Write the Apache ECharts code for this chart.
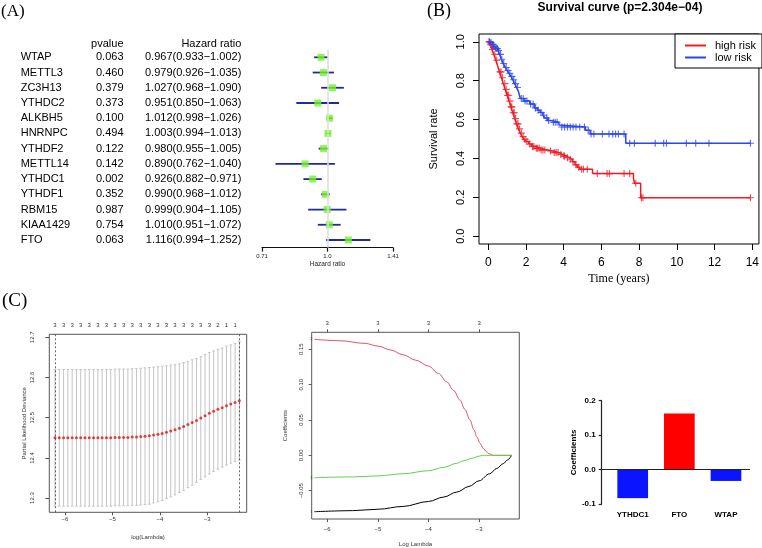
<!DOCTYPE html>
<html><head><meta charset="utf-8">
<script src="https://cdn.jsdelivr.net/npm/echarts@6/dist/echarts.min.js"></script>
<style>html,body{margin:0;padding:0;background:#fff}#c{width:762px;height:548px}</style>
</head><body><div id="c"></div>
<script>
// ---------- Panel A: univariate Cox forest plot ----------
const genes = ['WTAP','METTL3','ZC3H13','YTHDC2','ALKBH5','HNRNPC','YTHDF2','METTL14','YTHDC1','YTHDF1','RBM15','KIAA1429','FTO'];
const pvalues = ['0.063','0.460','0.379','0.373','0.100','0.494','0.122','0.142','0.002','0.352','0.987','0.754','0.063'];
const hr = [0.967,0.979,1.027,0.951,1.012,1.003,0.980,0.890,0.926,0.990,0.999,1.010,1.116];
const hrLow = [0.933,0.926,0.968,0.850,0.998,0.994,0.955,0.762,0.882,0.968,0.904,0.951,0.994];
const hrHigh = [1.002,1.035,1.090,1.063,1.026,1.013,1.005,1.040,0.971,1.012,1.105,1.072,1.252];
const hrTicks = [0.71, 1.0, 1.41];
const hrTickLabels = ['0.71','1.0','1.41'];
const hrRef = 1.0;

// ---------- Panel B: Kaplan-Meier ----------
const highT = [0,0.10,0.20,0.30,0.40,0.50,0.60,0.70,0.80,0.90,1.00,1.10,1.20,1.30,1.40,1.50,1.60,1.70,1.80,1.90,2.00,2.15,2.30,2.50,2.75,3.10,3.45,3.75,3.95,4.15,4.30,4.45,4.60,4.72,4.85,5.53,7.70,7.76,8.08];
const highS = [1,0.985,0.960,0.935,0.905,0.875,0.845,0.815,0.785,0.755,0.725,0.695,0.665,0.635,0.605,0.578,0.552,0.530,0.512,0.498,0.487,0.474,0.462,0.452,0.444,0.438,0.430,0.420,0.412,0.404,0.396,0.383,0.367,0.355,0.344,0.322,0.297,0.272,0.198];
const highCensor = [0.05,0.12,0.22,0.35,0.45,0.62,0.68,0.75,0.88,0.95,1.02,1.08,1.15,1.22,1.25,1.33,1.38,1.45,1.52,1.58,1.66,1.75,1.85,1.95,2.05,2.2,2.35,2.42,2.55,2.62,2.7,2.8,2.9,3.0,3.3,3.5,3.6,3.7,3.85,4.0,4.05,4.2,4.35,4.5,4.65,4.8,4.95,5.05,5.25,5.78,6.3,6.42,7.2,7.5,7.82,8.12,8.2,13.9];
const lowT = [0,0.1,0.2,0.3,0.4,0.5,0.6,0.7,0.8,0.9,1.0,1.1,1.2,1.3,1.4,1.5,1.6,1.7,1.9,2.2,2.45,2.6,2.75,2.9,3.0,3.15,3.3,3.75,3.85,5.15,5.4,7.29];
const lowS = [1,0.995,0.985,0.975,0.965,0.955,0.935,0.910,0.888,0.868,0.852,0.838,0.822,0.805,0.785,0.765,0.745,0.708,0.695,0.680,0.660,0.648,0.636,0.622,0.608,0.595,0.586,0.572,0.562,0.545,0.526,0.478];
const lowCensor = [0.05,0.1,0.15,0.22,0.28,0.35,0.42,0.48,0.55,0.65,0.72,0.82,0.95,1.05,1.15,1.25,1.35,1.45,1.55,1.75,1.85,1.95,2.05,2.25,2.38,2.5,2.65,2.8,2.95,3.1,3.2,3.45,3.55,3.65,3.9,4.05,4.2,4.35,4.5,4.65,4.85,5.1,5.3,5.45,5.6,6.05,6.4,6.6,6.75,6.9,7.2,7.5,7.75,8.85,9.3,9.45,10.5,11.0,11.7,13.9];
const survTicksX = [0,2,4,6,8,10,12,14];
const survTicksY = [0,0.2,0.4,0.6,0.8,1.0];

// ---------- Panel C left: cross-validation ----------
const cvLogLambda = [-6.211,-6.121,-6.030,-5.940,-5.849,-5.759,-5.669,-5.578,-5.488,-5.397,-5.307,-5.217,-5.126,-5.036,-4.945,-4.855,-4.765,-4.674,-4.584,-4.493,-4.403,-4.313,-4.222,-4.132,-4.041,-3.951,-3.861,-3.770,-3.680,-3.589,-3.499,-3.409,-3.318,-3.228,-3.137,-3.047,-2.957,-2.866,-2.776,-2.685,-2.595,-2.505,-2.414,-2.324];
const cvMean = [12.450,12.450,12.450,12.450,12.450,12.450,12.450,12.450,12.450,12.450,12.450,12.450,12.450,12.450,12.451,12.451,12.451,12.451,12.452,12.452,12.453,12.454,12.455,12.457,12.459,12.461,12.464,12.467,12.470,12.474,12.478,12.483,12.488,12.493,12.499,12.505,12.511,12.516,12.521,12.525,12.530,12.534,12.538,12.542];
const cvSd = [0.170,0.170,0.170,0.170,0.170,0.170,0.170,0.170,0.170,0.170,0.170,0.170,0.170,0.170,0.170,0.170,0.170,0.170,0.170,0.170,0.170,0.170,0.170,0.169,0.168,0.167,0.165,0.164,0.162,0.160,0.159,0.157,0.156,0.154,0.153,0.152,0.151,0.150,0.149,0.148,0.148,0.147,0.147,0.147];
const cvNzero = [3,3,3,3,3,3,3,3,3,3,3,3,3,3,3,3,3,3,3,3,3,3,3,3,3,3,3,3,3,3,3,3,3,3,3,3,3,2,2,2,1,1,1,1];
const cvMarks = [-6.211,-2.324];
const cvTicksX = [-6,-5,-4,-3];
const cvTicksY = [12.3,12.4,12.5,12.6,12.7];

// ---------- Panel C middle: coefficient paths ----------
const pathVar1 = [[-6.257,-0.0797],[-5.5,-0.0782],[-5.0,-0.0762],[-4.5,-0.0722],[-4.0,-0.0652],[-3.7,-0.0590],[-3.443,-0.0520],[-3.2,-0.0440],[-3.0,-0.0360],[-2.79,-0.0260],[-2.652,-0.0186],[-2.52,-0.0116],[-2.44,-0.0066],[-2.356,0]];
const pathVar2 = [[-6.257,0.1641],[-5.75,0.1621],[-5.25,0.1583],[-5.0,0.1545],[-4.75,0.1490],[-4.5,0.1422],[-4.25,0.1345],[-4.0,0.1262],[-3.8,0.1158],[-3.64,0.1040],[-3.5,0.0915],[-3.377,0.0782],[-3.28,0.0650],[-3.18,0.0499],[-3.1,0.0360],[-3.047,0.0263],[-2.98,0.0170],[-2.917,0.0099],[-2.86,0.0055],[-2.818,0.0028],[-2.72,0],[-2.356,0]];
const pathVar3 = [[-6.257,-0.0316],[-5.5,-0.0305],[-5.0,-0.0290],[-4.5,-0.0260],[-4.0,-0.0217],[-3.7,-0.0170],[-3.443,-0.0113],[-3.3,-0.0075],[-3.146,-0.0042],[-3.0,-0.0012],[-2.929,0],[-2.356,0]];
const pathVarLabels = ['1','2','3'];
const pathTicksX = [-6,-5,-4,-3];
const pathTopDf = ['3','3','3','3'];
const pathTicksY = [-0.05,0,0.05,0.10,0.15];
const pathTickLabelsY = ['\u22120.05','0.00','0.05','0.10','0.15'];

// ---------- Panel C right: coefficients ----------
const barGenes = ['YTHDC1','FTO','WTAP'];
const barCoef = [-0.083, 0.163, -0.033];
const barTicks = [-0.1,0,0.1,0.2];
const barTickLabels = ['-0.1','0.0','0.1','0.2'];

// ---------- helpers ----------
function survAt(T, S, t){ let v = 1; for (let i=0;i<T.length;i++){ if (T[i] <= t) v = S[i]; } return v; }
function stepData(T, S, C){ const d = T.map((t,i)=>[t,S[i]]); const tEnd = Math.max(...C); d.push([tEnd, S[S.length-1]]); return d; }
const SANS = 'Liberation Sans, Arial, sans-serif';
const SERIF = 'Liberation Serif, Times New Roman, serif';
const plusPath = 'path://M4.2,0h1.6v4.2h4.2v1.6h-4.2v4.2h-1.6v-4.2h-4.2v-1.6h4.2z';
const RED = '#ee1c24', BLUE = '#2c46e8';
const lnTicks = hrTicks.map(Math.log);
const pathColors = ['#000000','#df536b','#61d04f'];

function pathSeries(data, k){
  return {type:'line', xAxisIndex:4, yAxisIndex:3, symbol:'none', silent:true, smooth:0.35, smoothMonotone:'x',
    data: data.slice().reverse(), lineStyle:{color:pathColors[k], width:1},
    endLabel:{show:true, formatter:pathVarLabels[k], fontSize:4, color:'#444', distance:-4}};
}

const chart = echarts.init(document.getElementById('c'), null, {renderer:'canvas'});
const option = {
  animation: false,
  backgroundColor: '#fff',
  graphic: [
    {type:'text', x:1, y:12, style:{text:'(A)', font:'17px '+SERIF, fill:'#000', verticalAlign:'middle'}},
    {type:'text', x:427, y:11, style:{text:'(B)', font:'18px '+SERIF, fill:'#000', verticalAlign:'middle'}},
    {type:'text', x:2, y:301, style:{text:'(C)', font:'19px '+SERIF, fill:'#000', verticalAlign:'middle'}},
    {type:'text', x:620, y:8, style:{text:'Survival curve (p=2.304e\u221204)', font:'bold 12px '+SANS, fill:'#000', align:'center', verticalAlign:'middle'}},
    {type:'text', x:123.5, y:43.5, style:{text:'pvalue', font:'11px '+SANS, fill:'#000', align:'right', verticalAlign:'middle'}},
    {type:'text', x:241.3, y:43.5, style:{text:'Hazard ratio', font:'11px '+SANS, fill:'#000', align:'right', verticalAlign:'middle'}}
  ],
  legend: {
    data: ['high risk','low risk'], left: 675, top: 34, orient: 'vertical',
    icon: 'rect', itemWidth: 21, itemHeight: 2, itemGap: 1,
    padding: [6,6,5,10], borderColor:'#000', borderWidth:1, backgroundColor:'#fff',
    selectedMode: false,
    textStyle: {fontFamily: SANS, fontSize: 11, color:'#000', padding:[0,0,0,4]}
  },
  grid: [
    {left:262, top:49.7, width:131, height:197.9},
    {left:479, top:34, width:282, height:210, show:true, borderColor:'#000', borderWidth:1},
    {left:49.3, top:334.3, width:197.4, height:178, show:true, borderColor:'#555', borderWidth:1},
    {left:311.7, top:332.3, width:207.6, height:186.7, show:true, borderColor:'#555', borderWidth:1},
    {left:601.7, top:400.7, width:148.3, height:103.3}
  ],
  xAxis: [
    {gridIndex:0, type:'value', min:Math.log(0.71), max:Math.log(1.41), splitLine:{show:false},
     axisLine:{show:true, onZero:false, lineStyle:{color:'#111', width:1.2}},
     axisTick:{show:true, customValues: lnTicks, length:4, lineStyle:{color:'#111', width:1.2}},
     axisLabel:{customValues: lnTicks, fontSize:6, fontFamily:SANS, color:'#222', margin:6,
       formatter:(v)=>hrTickLabels[lnTicks.findIndex(t=>Math.abs(t-v)<1e-6)]},
     name:'Hazard ratio', nameLocation:'middle', nameGap:13, nameTextStyle:{fontSize:6.5, fontFamily:SANS, color:'#222'}},
    {gridIndex:1, type:'value', min:-0.49, max:14.35, splitLine:{show:false},
     axisLine:{show:false, onZero:false},
     axisTick:{show:true, customValues: survTicksX, length:6, lineStyle:{color:'#000'}},
     axisLabel:{customValues: survTicksX, fontSize:12, fontFamily:SANS, color:'#000', margin:13},
     name:'Time (years)', nameLocation:'middle', nameGap:29, nameTextStyle:{fontSize:12, fontFamily:SERIF, color:'#000'}},
    {gridIndex:2, type:'value', min:-6.331, max:-2.169, splitLine:{show:false},
     axisLine:{show:false, onZero:false},
     axisTick:{show:true, customValues: cvTicksX, length:3, lineStyle:{color:'#555'}},
     axisLabel:{customValues: cvTicksX, fontSize:6, fontFamily:SANS, color:'#333', margin:4, formatter:v=>String(v).replace('-','\u2212')},
     name:'log(Lambda)', nameLocation:'middle', nameGap:22, nameTextStyle:{fontSize:6, fontFamily:SANS, color:'#333'}},
    {gridIndex:2, type:'value', position:'top', min:-6.331, max:-2.169, splitLine:{show:false},
     axisLine:{show:false, onZero:false}, axisTick:{show:false},
     axisLabel:{customValues: cvLogLambda.filter((v,i)=>i%2===0), fontSize:6, fontFamily:SANS, color:'#333', margin:6,
       formatter:(v)=>String(cvNzero[cvLogLambda.findIndex(t=>Math.abs(t-v)<1e-6)])}},
    {gridIndex:3, type:'value', min:-6.308, max:-2.205, splitLine:{show:false},
     axisLine:{show:false, onZero:false},
     axisTick:{show:true, customValues: pathTicksX, length:3, lineStyle:{color:'#555'}},
     axisLabel:{customValues: pathTicksX, fontSize:6, fontFamily:SANS, color:'#333', margin:7, formatter:v=>String(v).replace('-','\u2212')},
     name:'Log Lambda', nameLocation:'middle', nameGap:22, nameTextStyle:{fontSize:6, fontFamily:SANS, color:'#333'}},
    {gridIndex:3, type:'value', position:'top', min:-6.308, max:-2.205, splitLine:{show:false},
     axisLine:{show:false, onZero:false},
     axisTick:{show:true, customValues: pathTicksX, length:3, lineStyle:{color:'#555'}},
     axisLabel:{customValues: pathTicksX, fontSize:6, fontFamily:SANS, color:'#333', margin:6,
       formatter:(v)=>pathTopDf[pathTicksX.indexOf(v)]}},
    {gridIndex:4, type:'value', min:-0.665, max:2.515, splitLine:{show:false},
     axisLine:{show:false, onZero:false}, axisTick:{show:false},
     axisLabel:{customValues:[0,1,2], fontSize:8, fontWeight:'bold', fontFamily:SANS, color:'#000', margin:7,
       formatter:(v)=>barGenes[v]}}
  ],
  yAxis: [
    {gridIndex:0, type:'category', data:genes, inverse:true,
     axisLine:{show:false}, axisTick:{show:false}, splitLine:{show:false},
     axisLabel:{interval:0, margin:20.7, fontFamily:SANS, fontSize:11, color:'#000',
       formatter:(v,i)=>'{g|'+genes[i]+'}{p|'+pvalues[i]+'}{h|'+hr[i].toFixed(3)+'('+hrLow[i].toFixed(3)+'\u2212'+hrHigh[i].toFixed(3)+')}',
       rich:{g:{width:65, align:'left', fontSize:11, fontFamily:SANS},
             p:{width:37.8, align:'right', fontSize:11, fontFamily:SANS},
             h:{width:117.8, align:'right', fontSize:11, fontFamily:SANS}}}},
    {gridIndex:1, type:'value', min:-0.04, max:1.04, splitLine:{show:false},
     axisLine:{show:false, onZero:false},
     axisTick:{show:true, customValues: survTicksY, length:6, lineStyle:{color:'#000'}},
     axisLabel:{customValues: survTicksY, rotate:90, fontSize:11, fontFamily:SANS, color:'#000', margin:13, formatter:v=>v.toFixed(1)},
     name:'Survival rate', nameLocation:'middle', nameGap:40, nameTextStyle:{fontSize:11, fontFamily:SANS, color:'#000'}},
    {gridIndex:2, type:'value', min:12.2647, max:12.7075, splitLine:{show:false},
     axisLine:{show:false, onZero:false},
     axisTick:{show:true, customValues: cvTicksY, length:4, lineStyle:{color:'#555'}},
     axisLabel:{customValues: cvTicksY, rotate:90, fontSize:6, fontFamily:SANS, color:'#333', margin:14, formatter:v=>v.toFixed(1)},
     name:'Partial Likelihood Deviance', nameLocation:'middle', nameGap:22, nameTextStyle:{fontSize:6, fontFamily:SANS, color:'#333'}},
    {gridIndex:3, type:'value', min:-0.090, max:0.174, splitLine:{show:false},
     axisLine:{show:false, onZero:false},
     axisTick:{show:true, customValues: pathTicksY, length:3, lineStyle:{color:'#555'}},
     axisLabel:{customValues: pathTicksY, rotate:90, fontSize:6, fontFamily:SANS, color:'#333', margin:7,
       formatter:(v)=>pathTickLabelsY[pathTicksY.findIndex(t=>Math.abs(t-v)<1e-9)]},
     name:'Coefficients', nameLocation:'middle', nameGap:23, nameTextStyle:{fontSize:6, fontFamily:SANS, color:'#333'}},
    {gridIndex:4, type:'value', min:-0.1, max:0.2, interval:0.1, splitLine:{show:false},
     axisLine:{show:true, onZero:false, lineStyle:{color:'#222', width:1.2}},
     axisTick:{show:true, length:3, lineStyle:{color:'#222', width:1.2}},
     axisLabel:{fontSize:8, fontWeight:'bold', fontFamily:SANS, color:'#000', margin:6,
       formatter:(v)=>barTickLabels[barTicks.findIndex(t=>Math.abs(t-v)<1e-9)]},
     name:'Coefficients', nameLocation:'middle', nameGap:24, nameTextStyle:{fontSize:8, fontWeight:'bold', fontFamily:SANS, color:'#000'}}
  ],
  series: [
    {type:'custom', xAxisIndex:0, yAxisIndex:0, silent:true,
     data: genes.map((g,i)=>[i, Math.log(hrLow[i]), Math.log(hrHigh[i])]),
     encode:{x:[1,2], y:0},
     renderItem:(params, api)=>{
       const a = api.coord([api.value(1), api.value(0)]);
       const b = api.coord([api.value(2), api.value(0)]);
       return {type:'line', shape:{x1:a[0], y1:a[1], x2:b[0], y2:b[1]}, style:{stroke:'#1f2a9c', lineWidth:1.8}};
     }},
    {type:'scatter', xAxisIndex:0, yAxisIndex:0, silent:true, symbol:'rect', symbolSize:7,
     itemStyle:{color:'#76f22a'},
     data: genes.map((g,i)=>[Math.log(hr[i]), i]), z:3,
     markLine:{silent:true, symbol:['none','none'], label:{show:false},
       lineStyle:{color:'#dcdcdc', width:1.5, type:'solid'}, data:[{xAxis: Math.log(hrRef)}]}},
    {type:'line', name:'high risk', xAxisIndex:1, yAxisIndex:1, step:'end', symbol:'none',
     data: stepData(highT, highS, highCensor), lineStyle:{color:RED, width:1.5}, itemStyle:{color:RED}},
    {type:'line', name:'low risk', xAxisIndex:1, yAxisIndex:1, step:'end', symbol:'none',
     data: stepData(lowT, lowS, lowCensor), lineStyle:{color:BLUE, width:1.5}, itemStyle:{color:BLUE}},
    {type:'scatter', xAxisIndex:1, yAxisIndex:1, symbol:plusPath, symbolSize:7, silent:true,
     itemStyle:{color:RED}, data: highCensor.map(t=>[t, survAt(highT, highS, t)])},
    {type:'scatter', xAxisIndex:1, yAxisIndex:1, symbol:plusPath, symbolSize:7, silent:true,
     itemStyle:{color:BLUE}, data: lowCensor.map(t=>[t, survAt(lowT, lowS, t)])},
    {type:'custom', xAxisIndex:2, yAxisIndex:2, silent:true,
     data: cvLogLambda.map((l,i)=>[l, cvMean[i]-cvSd[i], cvMean[i]+cvSd[i]]),
     encode:{x:0, y:[1,2]},
     renderItem:(params, api)=>{
       const p1 = api.coord([api.value(0), api.value(1)]);
       const p2 = api.coord([api.value(0), api.value(2)]);
       const w = 1.3, st = {stroke:'#c4c4c4', lineWidth:1};
       return {type:'group', children:[
         {type:'line', shape:{x1:p1[0], y1:p1[1], x2:p2[0], y2:p2[1]}, style:st},
         {type:'line', shape:{x1:p1[0]-w, y1:p1[1], x2:p1[0]+w, y2:p1[1]}, style:st},
         {type:'line', shape:{x1:p2[0]-w, y1:p2[1], x2:p2[0]+w, y2:p2[1]}, style:st}
       ]};
     }},
    {type:'scatter', xAxisIndex:2, yAxisIndex:2, silent:true, symbol:'circle', symbolSize:3,
     itemStyle:{color:'#e0141c'}, data: cvLogLambda.map((l,i)=>[l, cvMean[i]]), z:3,
     markLine:{silent:true, symbol:['none','none'], label:{show:false},
       lineStyle:{color:'#444', width:0.8, type:[2,2]}, data: cvMarks.map(v=>({xAxis:v}))}},
    pathSeries(pathVar1, 0),
    pathSeries(pathVar2, 1),
    pathSeries(pathVar3, 2),
    {type:'bar', xAxisIndex:6, yAxisIndex:4, silent:true, barWidth:30.7,
     data: barCoef.map((c,i)=>({value:[i,c], itemStyle:{color: c>0 ? '#ff0000' : '#0a14ff'}})),
     markLine:{silent:true, symbol:['none','none'], label:{show:false},
       lineStyle:{color:'#222', width:1.2, type:'solid'}, data:[{yAxis:0}]}}
  ]
};
chart.setOption(option);
</script></body></html>
